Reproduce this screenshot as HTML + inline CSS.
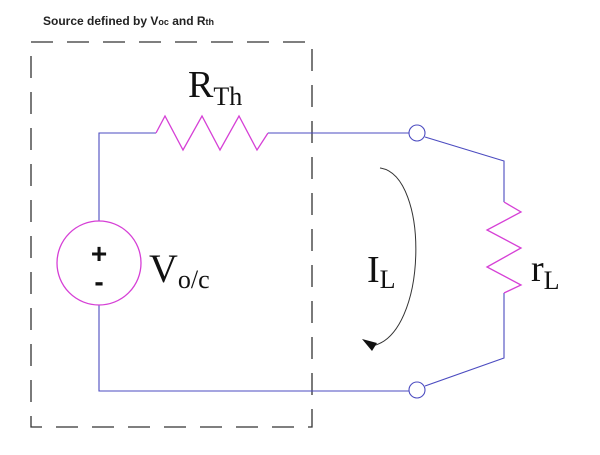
<!DOCTYPE html>
<html><head><meta charset="utf-8"><style>
html,body{margin:0;padding:0;background:#fff;width:600px;height:455px;overflow:hidden}
svg{display:block}
</style></head><body>
<svg width="600" height="455" viewBox="0 0 600 455" xmlns="http://www.w3.org/2000/svg">
<text x="43" y="25" font-family="Liberation Sans, sans-serif" font-weight="bold" font-size="12" fill="#222">Source defined by V<tspan font-size="9">oc</tspan> and  R<tspan font-size="9">th</tspan></text>
<rect x="31" y="42" width="281" height="385" fill="none" stroke="#333" stroke-width="1.3" stroke-dasharray="22,14"/>
<g fill="none" stroke="#4b4bc0" stroke-width="1.1">
<polyline points="156,133 99,133 99,221"/>
<line x1="268" y1="133" x2="409" y2="133"/>
<polyline points="99,305 99,391 409,391"/>
<polyline points="425,137 504,161 504,202"/>
<polyline points="504,293 504,358 425,386"/>
<circle cx="417" cy="133" r="8"/>
<circle cx="417" cy="390" r="8"/>
</g>
<g fill="none" stroke="#d640d6" stroke-width="1.3">
<polyline points="156,133 165,116 183,150 202,116 220,150 239,116 257,150 268,133"/>
<polyline points="504,202 521,212 487,230 521,248 487,267 521,285 504,293"/>
<circle cx="99" cy="263" r="42"/>
</g>
<text x="99" y="263" text-anchor="middle" font-family="Liberation Sans, sans-serif" font-weight="bold" font-size="28" fill="#111">+</text>
<text x="99" y="291" text-anchor="middle" font-family="Liberation Sans, sans-serif" font-weight="bold" font-size="28" fill="#111">-</text>
<g font-family="Liberation Serif, serif" fill="#111">
<text x="188" y="97" font-size="38">R<tspan font-size="26" dy="8">Th</tspan></text>
<text x="149" y="282" font-size="40">V<tspan font-size="26" dy="6">o/c</tspan></text>
<text x="367" y="282" font-size="38">I<tspan font-size="26" dy="6">L</tspan></text>
<text x="531" y="281" font-size="38">r<tspan font-size="26" dy="8">L</tspan></text>
</g>
<path d="M380,168 C430,175 428,335 372,346" fill="none" stroke="#333" stroke-width="1"/>
<polygon points="362,339 377,343 372,351" fill="#111"/>
</svg>
</body></html>
